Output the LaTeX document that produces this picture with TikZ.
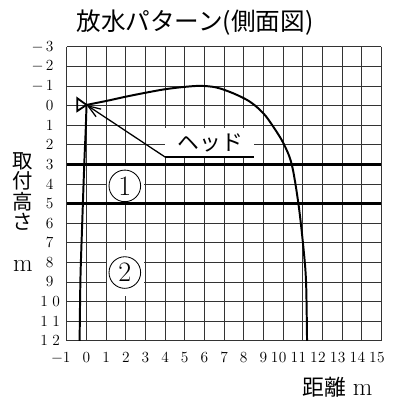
\documentclass[tikz,border=0pt]{standalone}
\usepackage{fontspec}
\newfontfamily\jpfont{Noto Sans CJK JP}
\usetikzlibrary{arrows.meta}
\begin{document}
\begin{tikzpicture}[x=0.025cm,y=-0.025cm,
  gridln/.style={line width=0.55pt, black!80},
  heavy/.style={line width=2pt, black},
  flow/.style={line width=1.4pt, black, line join=round},
  numlab/.style={font=\fontsize{11}{11}\selectfont, inner sep=0pt},
  circnum/.style={circle, draw, line width=0.6pt, minimum size=0.79cm, inner sep=0pt, font=\fontsize{20}{20}\selectfont},
  jp/.style={font=\jpfont\fontsize{15.5}{15.5}\selectfont, inner sep=0pt}]
\useasboundingbox (0,0) rectangle (398,406);
\fill[white] (0,0) rectangle (398,406);

% title
\node[font=\jpfont\fontsize{17.5}{17.5}\selectfont, inner sep=0pt] (title) at (195,23) {放水パターン(側面図)};

% y axis numbers
\node[numlab, anchor=east] (ylm3) at (56,46.7) {\makebox[0.3cm]{$-$}\makebox[0.3cm]{3}};
\node[numlab, anchor=east] (ylm2) at (56,66.3) {\makebox[0.3cm]{$-$}\makebox[0.3cm]{2}};
\node[numlab, anchor=east] (ylm1) at (56,85.9) {\makebox[0.3cm]{$-$}\makebox[0.3cm]{1}};
\node[numlab, anchor=east] (yl0) at (56,105.5) {\makebox[0.3cm]{0}};
\node[numlab, anchor=east] (yl1) at (56,125.1) {\makebox[0.3cm]{1}};
\node[numlab, anchor=east] (yl2) at (56,144.7) {\makebox[0.3cm]{2}};
\node[numlab, anchor=east] (yl3) at (56,164.3) {\makebox[0.3cm]{3}};
\node[numlab, anchor=east] (yl4) at (56,183.9) {\makebox[0.3cm]{4}};
\node[numlab, anchor=east] (yl5) at (56,203.5) {\makebox[0.3cm]{5}};
\node[numlab, anchor=east] (yl6) at (56,223.1) {\makebox[0.3cm]{6}};
\node[numlab, anchor=east] (yl7) at (56,242.7) {\makebox[0.3cm]{7}};
\node[numlab, anchor=east] (yl8) at (56,262.3) {\makebox[0.3cm]{8}};
\node[numlab, anchor=east] (yl9) at (56,281.9) {\makebox[0.3cm]{9}};
\node[numlab, anchor=east] (yl10) at (62.5,301.5) {\makebox[0.3cm]{1}\makebox[0.3cm]{0}};
\node[numlab, anchor=east] (yl11) at (62.5,321.1) {\makebox[0.3cm]{1}\makebox[0.3cm]{1}};
\node[numlab, anchor=east] (yl12) at (62.5,340.7) {\makebox[0.3cm]{1}\makebox[0.3cm]{2}};

% x axis numbers
\node[numlab, anchor=east] (xlm1) at ({86.5-19.65+4},357.5) {\makebox[0.275cm]{$-$}\makebox[0.2cm]{1}};
\foreach \u in {0,...,9}
  \node[numlab] (xl\u) at ({86.5+19.65*\u},357.5) {\u};
\foreach \u in {0,...,5}
  \node[numlab, anchor=east] (xlt\u) at ({86.5+19.65*(10+\u)+4},357.5) {\makebox[0.2cm]{1}\makebox[0.2cm]{\u}};

% axis titles
\node[font=\jpfont\fontsize{14.5}{14.65}\selectfont, align=center, inner sep=0pt, anchor=north] (ytitle) at (23,152)
  {取\\付\\高\\さ\\[14.65pt]{\normalfont\fontsize{18}{14.65}\selectfont m}};
\node[font=\jpfont\fontsize{15.5}{15.5}\selectfont, inner sep=0pt, anchor=base west] (xtitle) at (302,395.5)
  {距離\hspace{5pt}{\normalfont\fontsize{18}{18}\selectfont m}};

\begin{scope}[shift={(86.5,105.5)}, x=0.49125cm, y=-0.49cm]
  \foreach \i in {-1,...,15} \draw[gridln] (\i,-3) -- (\i,12);
  \foreach \j in {-3,...,12} \draw[gridln] (-1,\j) -- (15,\j);

  % white patches
  \fill[white] (1.06,3.07) rectangle (2.94,4.93);
  \fill[white] (1.06,7.35) rectangle (2.94,9.7);
  \fill[white] (4.0,1.17) rectangle (8.5,2.6);

  % circled numbers
  \node[circnum] (c1) at (1.95,4.1) {1};
  \node[circnum] (c2) at (1.95,8.52) {2};

  % head label
  \node[jp] (hd) at (6.3,1.92) {ヘッド};
  \coordinate (ulL) at (4.0,2.63);
  \coordinate (ulR) at (8.5,2.63);
  \draw[line width=1.2pt] (ulL) -- (ulR);

  % head triangle
  \coordinate (tip) at (0,-0.03);
  \draw[line width=1.3pt, line join=miter] (-0.47,-0.37) -- (tip) -- (-0.47,0.28) -- cycle;
  \draw[line width=0.9pt, -{Straight Barb[length=9pt,width=6.5pt]}] (ulL) -- (tip);

  % water pattern
  \draw[flow] plot[smooth, tension=0.55] coordinates {(0,-0.03) (1,-0.23) (2,-0.45) (3,-0.65) (4,-0.83) (5,-0.95) (5.8,-1.0) (6.6,-0.92) (7.47,-0.62) (8.32,-0.19) (9,0.4) (9.5,1.08) (10.02,1.93) (10.44,3) (10.78,5) (11.03,7.2) (11.17,9) (11.22,12)};
  \draw[flow] plot[smooth, tension=0.55] coordinates {(0,-0.03) (-0.04,1.25) (-0.11,2.9) (-0.23,6.35) (-0.31,8.9) (-0.35,12)};
\end{scope}

% heavy lines at heights 3 and 5
\coordinate (h3a) at (67,164.3);
\coordinate (h3b) at (381.25,164.3);
\coordinate (h5a) at (67,203.5);
\coordinate (h5b) at (381.25,203.5);
\draw[heavy] (h3a) -- (h3b);
\draw[heavy] (h5a) -- (h5b);
\end{tikzpicture}
\end{document}
